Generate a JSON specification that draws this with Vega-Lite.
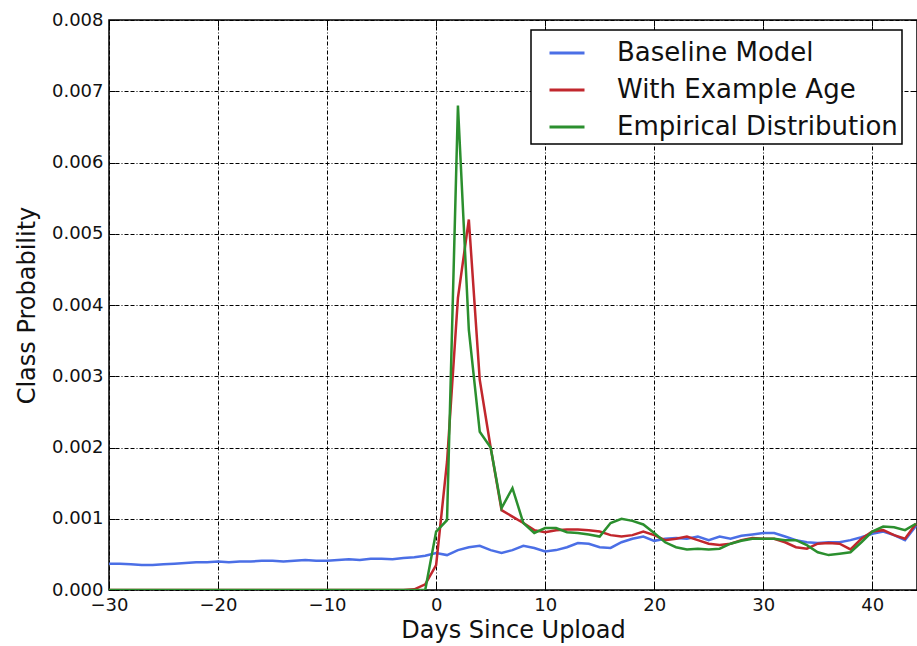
{
  "$schema": "https://vega.github.io/schema/vega-lite/v6.json",
  "autosize": {"type": "none"},
  "width": 808,
  "height": 570,
  "padding": {"left": 109, "top": 20, "right": 0, "bottom": 56},
  "background": "white",
  "config": {
    "font": "DejaVu Sans",
    "view": {"stroke": "black", "strokeWidth": 1.5},
    "axis": {
      "domain": false,
      "grid": true,
      "gridColor": "black",
      "gridOpacity": 1,
      "gridWidth": 1,
      "gridDash": [4, 2, 4, 2, 1, 2],
      "tickColor": "black",
      "tickSize": -6,
      "tickWidth": 1,
      "labelFlush": false,
      "labelFont": "DejaVu Sans",
      "labelFontSize": 18,
      "labelColor": "#111",
      "titleFont": "DejaVu Sans",
      "titleFontSize": 24,
      "titleFontWeight": "normal",
      "titleColor": "#111"
    }
  },
  "data": {
    "values": [
      {"day": -30, "Baseline Model": 0.00037, "With Example Age": 0, "Empirical Distribution": 0},
      {"day": -29, "Baseline Model": 0.00037, "With Example Age": 0, "Empirical Distribution": 0},
      {"day": -28, "Baseline Model": 0.00036, "With Example Age": 0, "Empirical Distribution": 0},
      {"day": -27, "Baseline Model": 0.00035, "With Example Age": 0, "Empirical Distribution": 0},
      {"day": -26, "Baseline Model": 0.00035, "With Example Age": 0, "Empirical Distribution": 0},
      {"day": -25, "Baseline Model": 0.00036, "With Example Age": 0, "Empirical Distribution": 0},
      {"day": -24, "Baseline Model": 0.00037, "With Example Age": 0, "Empirical Distribution": 0},
      {"day": -23, "Baseline Model": 0.00038, "With Example Age": 0, "Empirical Distribution": 0},
      {"day": -22, "Baseline Model": 0.00039, "With Example Age": 0, "Empirical Distribution": 0},
      {"day": -21, "Baseline Model": 0.00039, "With Example Age": 0, "Empirical Distribution": 0},
      {"day": -20, "Baseline Model": 0.00040, "With Example Age": 0, "Empirical Distribution": 0},
      {"day": -19, "Baseline Model": 0.00039, "With Example Age": 0, "Empirical Distribution": 0},
      {"day": -18, "Baseline Model": 0.00040, "With Example Age": 0, "Empirical Distribution": 0},
      {"day": -17, "Baseline Model": 0.00040, "With Example Age": 0, "Empirical Distribution": 0},
      {"day": -16, "Baseline Model": 0.00041, "With Example Age": 0, "Empirical Distribution": 0},
      {"day": -15, "Baseline Model": 0.00041, "With Example Age": 0, "Empirical Distribution": 0},
      {"day": -14, "Baseline Model": 0.00040, "With Example Age": 0, "Empirical Distribution": 0},
      {"day": -13, "Baseline Model": 0.00041, "With Example Age": 0, "Empirical Distribution": 0},
      {"day": -12, "Baseline Model": 0.00042, "With Example Age": 0, "Empirical Distribution": 0},
      {"day": -11, "Baseline Model": 0.00041, "With Example Age": 0, "Empirical Distribution": 0},
      {"day": -10, "Baseline Model": 0.00041, "With Example Age": 0, "Empirical Distribution": 0},
      {"day": -9, "Baseline Model": 0.00042, "With Example Age": 0, "Empirical Distribution": 0},
      {"day": -8, "Baseline Model": 0.00043, "With Example Age": 0, "Empirical Distribution": 0},
      {"day": -7, "Baseline Model": 0.00042, "With Example Age": 0, "Empirical Distribution": 0},
      {"day": -6, "Baseline Model": 0.00044, "With Example Age": 0, "Empirical Distribution": 0},
      {"day": -5, "Baseline Model": 0.00044, "With Example Age": 0, "Empirical Distribution": 0},
      {"day": -4, "Baseline Model": 0.00043, "With Example Age": 0, "Empirical Distribution": 0},
      {"day": -3, "Baseline Model": 0.00045, "With Example Age": 0, "Empirical Distribution": 0},
      {"day": -2, "Baseline Model": 0.00046, "With Example Age": 0.00001, "Empirical Distribution": 0},
      {"day": -1, "Baseline Model": 0.00048, "With Example Age": 0.00008, "Empirical Distribution": 0},
      {"day": 0, "Baseline Model": 0.00052, "With Example Age": 0.00035, "Empirical Distribution": 0.00082},
      {"day": 1, "Baseline Model": 0.00049, "With Example Age": 0.0018, "Empirical Distribution": 0.00098},
      {"day": 2, "Baseline Model": 0.00056, "With Example Age": 0.0041, "Empirical Distribution": 0.0068},
      {"day": 3, "Baseline Model": 0.00060, "With Example Age": 0.0052, "Empirical Distribution": 0.00365},
      {"day": 4, "Baseline Model": 0.00062, "With Example Age": 0.00295, "Empirical Distribution": 0.00222},
      {"day": 5, "Baseline Model": 0.00056, "With Example Age": 0.0020, "Empirical Distribution": 0.0020},
      {"day": 6, "Baseline Model": 0.00052, "With Example Age": 0.00112, "Empirical Distribution": 0.00115},
      {"day": 7, "Baseline Model": 0.00056, "With Example Age": 0.00103, "Empirical Distribution": 0.00143},
      {"day": 8, "Baseline Model": 0.00062, "With Example Age": 0.00094, "Empirical Distribution": 0.00094},
      {"day": 9, "Baseline Model": 0.00059, "With Example Age": 0.00084, "Empirical Distribution": 0.00080},
      {"day": 10, "Baseline Model": 0.00054, "With Example Age": 0.00081, "Empirical Distribution": 0.00087},
      {"day": 11, "Baseline Model": 0.00056, "With Example Age": 0.00084, "Empirical Distribution": 0.00087},
      {"day": 12, "Baseline Model": 0.00060, "With Example Age": 0.00085, "Empirical Distribution": 0.00081},
      {"day": 13, "Baseline Model": 0.00066, "With Example Age": 0.00085, "Empirical Distribution": 0.00080},
      {"day": 14, "Baseline Model": 0.00065, "With Example Age": 0.00084, "Empirical Distribution": 0.00078},
      {"day": 15, "Baseline Model": 0.00060, "With Example Age": 0.00082, "Empirical Distribution": 0.00075},
      {"day": 16, "Baseline Model": 0.00059, "With Example Age": 0.00077, "Empirical Distribution": 0.00094},
      {"day": 17, "Baseline Model": 0.00067, "With Example Age": 0.00075, "Empirical Distribution": 0.00100},
      {"day": 18, "Baseline Model": 0.00072, "With Example Age": 0.00077, "Empirical Distribution": 0.00097},
      {"day": 19, "Baseline Model": 0.00075, "With Example Age": 0.00082, "Empirical Distribution": 0.00092},
      {"day": 20, "Baseline Model": 0.00069, "With Example Age": 0.00077, "Empirical Distribution": 0.00080},
      {"day": 21, "Baseline Model": 0.00072, "With Example Age": 0.00070, "Empirical Distribution": 0.00067},
      {"day": 22, "Baseline Model": 0.00073, "With Example Age": 0.00072, "Empirical Distribution": 0.00060},
      {"day": 23, "Baseline Model": 0.00072, "With Example Age": 0.00075, "Empirical Distribution": 0.00057},
      {"day": 24, "Baseline Model": 0.00075, "With Example Age": 0.00070, "Empirical Distribution": 0.00058},
      {"day": 25, "Baseline Model": 0.00070, "With Example Age": 0.00065, "Empirical Distribution": 0.00057},
      {"day": 26, "Baseline Model": 0.00075, "With Example Age": 0.00063, "Empirical Distribution": 0.00058},
      {"day": 27, "Baseline Model": 0.00072, "With Example Age": 0.00065, "Empirical Distribution": 0.00065},
      {"day": 28, "Baseline Model": 0.00076, "With Example Age": 0.00070, "Empirical Distribution": 0.00069},
      {"day": 29, "Baseline Model": 0.00078, "With Example Age": 0.00073, "Empirical Distribution": 0.00072},
      {"day": 30, "Baseline Model": 0.00080, "With Example Age": 0.00072, "Empirical Distribution": 0.00072},
      {"day": 31, "Baseline Model": 0.00080, "With Example Age": 0.00072, "Empirical Distribution": 0.00072},
      {"day": 32, "Baseline Model": 0.00075, "With Example Age": 0.00067, "Empirical Distribution": 0.00070},
      {"day": 33, "Baseline Model": 0.00070, "With Example Age": 0.00060, "Empirical Distribution": 0.00070},
      {"day": 34, "Baseline Model": 0.00067, "With Example Age": 0.00058, "Empirical Distribution": 0.00063},
      {"day": 35, "Baseline Model": 0.00066, "With Example Age": 0.00065, "Empirical Distribution": 0.00053},
      {"day": 36, "Baseline Model": 0.00067, "With Example Age": 0.00066, "Empirical Distribution": 0.00049},
      {"day": 37, "Baseline Model": 0.00067, "With Example Age": 0.00065, "Empirical Distribution": 0.00051},
      {"day": 38, "Baseline Model": 0.00070, "With Example Age": 0.00057, "Empirical Distribution": 0.00053},
      {"day": 39, "Baseline Model": 0.00074, "With Example Age": 0.00072, "Empirical Distribution": 0.00067},
      {"day": 40, "Baseline Model": 0.00079, "With Example Age": 0.00082, "Empirical Distribution": 0.00082},
      {"day": 41, "Baseline Model": 0.00082, "With Example Age": 0.00084, "Empirical Distribution": 0.00089},
      {"day": 42, "Baseline Model": 0.00077, "With Example Age": 0.00077, "Empirical Distribution": 0.00088},
      {"day": 43, "Baseline Model": 0.00070, "With Example Age": 0.00072, "Empirical Distribution": 0.00084},
      {"day": 44, "Baseline Model": 0.00090, "With Example Age": 0.00093, "Empirical Distribution": 0.00093}
    ]
  },
  "transform": [
    {"fold": ["Baseline Model", "With Example Age", "Empirical Distribution"], "as": ["series", "p"]}
  ],
  "layer": [
    {
      "mark": {"type": "line", "strokeWidth": 2.5, "clip": true},
      "encoding": {
        "x": {
          "field": "day", "type": "quantitative",
          "scale": {"domain": [-30, 44.1], "nice": false, "zero": false},
          "axis": {"values": [-30, -20, -10, 0, 10, 20, 30, 40], "title": "Days Since Upload", "labelPadding": 12, "titlePadding": 4}
        },
        "y": {
          "field": "p", "type": "quantitative",
          "scale": {"domain": [0, 0.008], "nice": false},
          "axis": {"values": [0, 0.001, 0.002, 0.003, 0.004, 0.005, 0.006, 0.007, 0.008], "format": ".3f", "title": "Class Probability", "labelPadding": 12, "titlePadding": 12}
        },
        "color": {
          "field": "series", "type": "nominal",
          "scale": {"domain": ["Baseline Model", "With Example Age", "Empirical Distribution"], "range": ["#4B6FE6", "#C1272D", "#2B8F2E"]},
          "legend": {
            "title": null,
            "orient": "none",
            "legendX": 422,
            "legendY": 10,
            "symbolType": "stroke",
            "symbolSize": 1225,
            "symbolStrokeWidth": 3,
            "symbolOffset": 13,
            "labelFontSize": 26,
            "labelFont": "DejaVu Sans",
            "labelColor": "#111",
            "labelLimit": 500,
            "labelOffset": 31,
            "rowPadding": 5,
            "padding": 4,
            "strokeColor": "black",
            "fillColor": "white",
            "cornerRadius": 0,
            "encode": {"legend": {"update": {"strokeWidth": {"value": 1.5}}}}
          }
        }
      }
    },
    {
      "mark": {"type": "line", "opacity": 0},
      "encoding": {
        "x": {
          "field": "day", "type": "quantitative",
          "scale": {"domain": [-30, 44.1], "nice": false, "zero": false},
          "axis": {"orient": "top", "values": [-30, -20, -10, 0, 10, 20, 30, 40], "labels": false, "grid": false, "title": null}
        },
        "y": {
          "field": "p", "type": "quantitative",
          "scale": {"domain": [0, 0.008], "nice": false},
          "axis": {"orient": "right", "values": [0, 0.001, 0.002, 0.003, 0.004, 0.005, 0.006, 0.007, 0.008], "labels": false, "grid": false, "title": null}
        },
        "detail": {"field": "series"}
      }
    }
  ],
  "resolve": {"axis": {"x": "independent", "y": "independent"}}
}
